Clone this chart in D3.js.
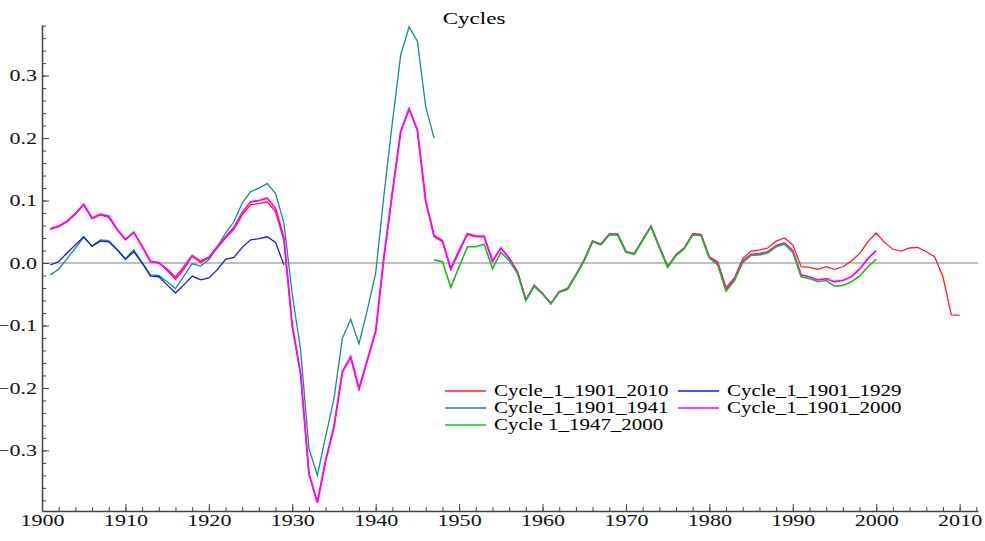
<!DOCTYPE html>
<meta charset="utf-8">
<style>
body { margin: 0px; background: white; }
svg { display: block; }
.axis path, .axis line { stroke: #444; }
.axis path { stroke-width: 1.5px; }
.axis text { font: 16px "Liberation Serif", serif; fill: #111; }
.line { fill: none; }
</style>
<svg width="985" height="541"></svg>
<script src="https://cdn.jsdelivr.net/npm/d3@7"></script>
<script>

// values, one per year from each start year
var red_1901_2010 = [0.054, 0.058, 0.066, 0.078, 0.093, 0.071, 0.077, 0.073, 0.053, 0.037,
  0.049, 0.026, 0.002, 0.001, -0.012, -0.026, -0.010, 0.011, 0.001, 0.008,
  0.024, 0.040, 0.054, 0.077, 0.093, 0.095, 0.098, 0.082, 0.036, -0.102,
  -0.178, -0.338, -0.384, -0.317, -0.263, -0.175, -0.151, -0.202, -0.156, -0.110,
  0.010, 0.112, 0.210, 0.246, 0.212, 0.098, 0.042, 0.034, -0.011, 0.018,
  0.046, 0.042, 0.042, 0.002, 0.024, 0.008, -0.014, -0.059, -0.036, -0.049,
  -0.065, -0.046, -0.041, -0.019, 0.005, 0.035, 0.030, 0.046, 0.046, 0.018,
  0.015, 0.037, 0.059, 0.026, -0.006, 0.013, 0.024, 0.047, 0.046, 0.010,
  0.002, -0.039, -0.024, 0.007, 0.019, 0.021, 0.024, 0.035, 0.040, 0.029,
  -0.006, -0.007, -0.010, -0.006, -0.010, -0.006, 0.003, 0.015, 0.034, 0.048,
  0.033, 0.022, 0.019, 0.024, 0.025, 0.018, 0.010, -0.022, -0.083, -0.084];

var blue_1901_1929 = [-0.003, 0.002, 0.016, 0.029, 0.042, 0.027, 0.035, 0.034, 0.021, 0.006,
  0.018, 0.000, -0.021, -0.022, -0.035, -0.048, -0.035, -0.021, -0.027, -0.024,
  -0.011, 0.006, 0.009, 0.025, 0.037, 0.039, 0.042, 0.033, -0.003];

var teal_1901_1941 = [-0.019, -0.010, 0.007, 0.024, 0.041, 0.027, 0.037, 0.036, 0.022, 0.007,
  0.021, 0.001, -0.019, -0.020, -0.030, -0.041, -0.021, -0.001, -0.005, 0.005,
  0.025, 0.048, 0.066, 0.096, 0.114, 0.120, 0.127, 0.111, 0.064, -0.050,
  -0.139, -0.297, -0.340, -0.278, -0.217, -0.121, -0.090, -0.129, -0.075, -0.016,
  0.110, 0.225, 0.333, 0.378, 0.355, 0.250, 0.200];

var pink_1901_2000 = [0.055, 0.059, 0.067, 0.079, 0.094, 0.072, 0.078, 0.075, 0.054, 0.038,
  0.049, 0.027, 0.003, 0.000, -0.010, -0.023, -0.006, 0.012, 0.003, 0.009,
  0.026, 0.042, 0.057, 0.081, 0.098, 0.100, 0.104, 0.087, 0.040, -0.100,
  -0.177, -0.337, -0.383, -0.316, -0.262, -0.174, -0.150, -0.201, -0.155, -0.109,
  0.011, 0.113, 0.211, 0.247, 0.213, 0.099, 0.044, 0.036, -0.009, 0.020,
  0.047, 0.043, 0.043, 0.003, 0.024, 0.008, -0.014, -0.059, -0.036, -0.049,
  -0.065, -0.046, -0.041, -0.019, 0.005, 0.035, 0.030, 0.046, 0.046, 0.018,
  0.015, 0.037, 0.059, 0.026, -0.006, 0.013, 0.024, 0.046, 0.045, 0.009,
  -0.001, -0.043, -0.026, 0.003, 0.014, 0.015, 0.018, 0.028, 0.032, 0.020,
  -0.019, -0.022, -0.027, -0.025, -0.030, -0.028, -0.022, -0.010, 0.007, 0.020];

var green_1947_2000 = [0.005, 0.002, -0.039, -0.006,
  0.026, 0.026, 0.030, -0.009, 0.017, 0.004, -0.017, -0.060, -0.037, -0.050,
  -0.065, -0.047, -0.042, -0.020, 0.004, 0.034, 0.029, 0.045, 0.045, 0.017,
  0.014, 0.036, 0.058, 0.025, -0.007, 0.012, 0.023, 0.045, 0.044, 0.008,
  -0.003, -0.045, -0.028, 0.001, 0.012, 0.013, 0.016, 0.026, 0.030, 0.017,
  -0.022, -0.025, -0.030, -0.028, -0.037, -0.036, -0.030, -0.021, -0.006, 0.006];

var seriesNames = ["Cycle_1_1901_2010", "Cycle_1_1901_1929", "Cycle_1_1901_1941", "Cycle_1_1901_2000", "Cycle 1_1947_2000"];
var seriesStart = [1901, 1901, 1901, 1901, 1947];
var seriesValues = [red_1901_2010, blue_1901_1929, teal_1901_1941, pink_1901_2000, green_1947_2000];
var seriesColors = ["#ff1e1e", "#1414ff", "#148c8c", "#ff00ff", "#14c014"];
var seriesWidths = [1.3, 1.3, 1.3, 1.8, 1.6];
var drawOrder = [0, 2, 1, 3, 4];

var yMajorTicks = [-0.3, -0.2, -0.1, 0.0, 0.1, 0.2, 0.3];
var xMajorTicks = [1900, 1910, 1920, 1930, 1940, 1950, 1960, 1970, 1980, 1990, 2000, 2010];

// text in the picture is drawn wider than it is tall
function stretch(k) {
  return function(sel) {
    sel.each(function() {
      var t = d3.select(this);
      var x0 = +t.attr("x") || 0;
      t.attr("x", x0 / k).attr("transform", "scale(" + k + ",1)");
    });
  };
}

var svg = d3.select("svg"),
    plotLeft = 42, plotRight = 978, plotTop = 25, plotBottom = 511;

var x = d3.scaleLinear().domain([1900, 2012.2]).range([plotLeft, plotRight]),
    y = d3.scaleLinear().domain([-0.397, 0.381]).range([plotBottom, plotTop]);

// zero line
svg.append("line")
    .attr("x1", plotLeft).attr("x2", plotRight)
    .attr("y1", y(0)).attr("y2", y(0))
    .attr("stroke", "#aaa")
    .attr("stroke-width", 1.5);

var line = d3.line()
    .x(function(d) { return x(d.year); })
    .y(function(d) { return y(d.value); });

drawOrder.forEach(function(i) {
  var pts = seriesValues[i].map(function(v, j) { return {year: seriesStart[i] + j, value: v}; });
  svg.append("path")
      .attr("class", "line")
      .attr("d", line(pts))
      .attr("stroke", seriesColors[i])
      .attr("stroke-width", seriesWidths[i]);
});

// minor ticks
var yMinor = d3.range(-0.38, 0.381, 0.02);
svg.append("g")
    .attr("class", "axis")
    .attr("transform", "translate(" + plotLeft + ",0)")
    .call(d3.axisLeft(y).tickValues(yMinor).tickSizeInner(-4).tickSizeOuter(0).tickFormat(""))
    .select(".domain").remove();

svg.append("g")
    .attr("class", "axis")
    .attr("transform", "translate(0," + plotBottom + ")")
    .call(d3.axisBottom(x).tickValues(d3.range(1900, 2013, 2)).tickSizeInner(-4).tickSizeOuter(0).tickFormat(""))
    .select(".domain").remove();

// major ticks and labels
var yAxis = svg.append("g")
    .attr("class", "axis")
    .attr("transform", "translate(" + plotLeft + ",0)")
    .call(d3.axisLeft(y).tickValues(yMajorTicks).tickSizeInner(-7).tickSizeOuter(0).tickPadding(5)
      .tickFormat(d3.format(".1f")));
yAxis.selectAll("text").call(stretch(1.38));

var xAxis = svg.append("g")
    .attr("class", "axis")
    .attr("transform", "translate(0," + plotBottom + ")")
    .call(d3.axisBottom(x).tickValues(xMajorTicks).tickSizeInner(-7).tickSizeOuter(0).tickPadding(4)
      .tickFormat(d3.format("d")));
xAxis.selectAll("text").call(stretch(1.38));

// title
svg.append("g")
    .attr("transform", "translate(474,24)")
  .append("text")
    .attr("text-anchor", "middle")
    .style("font", "16px 'Liberation Serif', serif")
    .text("Cycles")
    .call(stretch(1.44));

// legend
var legendPos = [[445, 391], [678, 391], [445, 408], [678, 408], [445, 425]];
seriesNames.forEach(function(name, i) {
  var g = svg.append("g").attr("transform", "translate(" + legendPos[i][0] + "," + legendPos[i][1] + ")");
  g.append("line")
      .attr("x1", 0).attr("x2", 41)
      .attr("stroke", seriesColors[i])
      .attr("stroke-width", 1.5);
  g.append("text")
      .attr("x", 49)
      .attr("dy", "0.33em")
      .style("font", "16px 'Liberation Serif', serif")
      .text(name)
      .call(stretch(1.31));
});

</script>
